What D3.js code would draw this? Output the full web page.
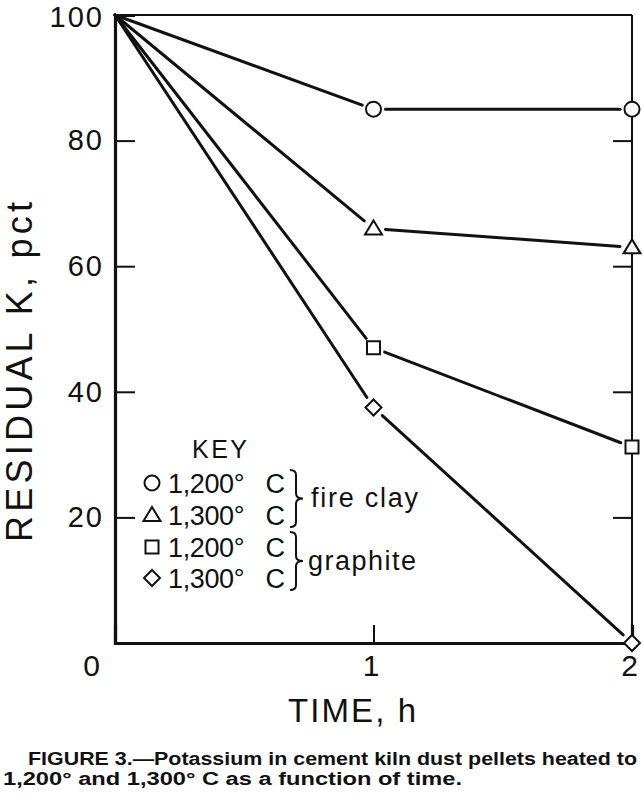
<!DOCTYPE html>
<html>
<head>
<meta charset="utf-8">
<script src="https://cdn.jsdelivr.net/npm/d3@7"></script>
<style>
  body { margin: 0; background: #fff; }
  svg text { fill: #111; font-family: "Liberation Sans", Arial, sans-serif; }
</style>
</head>
<body>
<div id="vis"></div>
<script>
// values
const times = [0, 1, 2];
const fireClay1200 = [100, 85, 85];
const fireClay1300 = [100, 66, 63];
const graphite1200 = [100, 47, 31.2];
const graphite1300 = [100, 37.5, 0];

const yTicks = [20, 40, 60, 80, 100];
const xTicks = [0, 1, 2];
const keyLabels = ["1,200°\u00a0\u00a0\u00a0C", "1,300°\u00a0\u00a0\u00a0C", "1,200°\u00a0\u00a0\u00a0C", "1,300°\u00a0\u00a0\u00a0C"];
const groupLabels = ["fire clay", "graphite"];

const series = [
  { name: "fireClay1200", values: fireClay1200, shape: "circle" },
  { name: "fireClay1300", values: fireClay1300, shape: "triangle" },
  { name: "graphite1200", values: graphite1200, shape: "square" },
  { name: "graphite1300", values: graphite1300, shape: "diamond" }
];

const width = 643, height = 799;

const svg = d3.select("#vis").append("svg")
  .attr("width", width)
  .attr("height", height);

const x = d3.scaleLinear().domain([0, 2]).range([115, 632]);
const y = d3.scaleLinear().domain([0, 100]).range([643, 15]);

// marker shapes
function shapePath(shape) {
  if (shape === "circle") return d3.arc()({ innerRadius: 0, outerRadius: 7.5, startAngle: 0, endAngle: 2 * Math.PI });
  if (shape === "triangle") return "M0,-8L8.5,6L-8.5,6Z";
  if (shape === "square") return "M-6.5,-6.5H6.5V6.5H-6.5Z";
  return "M0,-8L8,0L0,8L-8,0Z";
}

// frame: top and right are thinner
svg.append("line").attr("x1", x(0)).attr("x2", x(2)).attr("y1", y(100)).attr("y2", y(100))
  .attr("stroke", "#111").attr("stroke-width", 2);
svg.append("line").attr("x1", x(2)).attr("x2", x(2)).attr("y1", y(100)).attr("y2", y(0))
  .attr("stroke", "#111").attr("stroke-width", 2);

// left axis
const yAxis = svg.append("g")
  .attr("transform", `translate(${x(0)},0)`)
  .call(d3.axisLeft(y).tickValues(yTicks).tickSize(-20).tickPadding(11));
yAxis.select(".domain").attr("stroke", "#111").attr("stroke-width", 3.2);
yAxis.selectAll(".tick line").attr("stroke", "#111").attr("stroke-width", 2)
  .filter(d => d === 100).remove();
yAxis.selectAll(".tick text").attr("font-size", 29).attr("letter-spacing", 2).attr("fill", "#111")
  .attr("font-family", "Liberation Sans, Arial, sans-serif")
  .attr("dy", d => d === 100 ? "0.4em" : "0.32em");

// right axis ticks
const yRight = svg.append("g")
  .attr("transform", `translate(${x(2)},0)`)
  .call(d3.axisLeft(y).tickValues([20, 40, 60, 80]).tickSize(19).tickFormat(""));
yRight.select(".domain").remove();
yRight.selectAll(".tick line").attr("stroke", "#111").attr("stroke-width", 2);

// bottom axis
const xAxis = svg.append("g")
  .attr("transform", `translate(0,${y(0)})`)
  .call(d3.axisBottom(x).tickValues(xTicks).tickSize(-18).tickPadding(12)
    .tickFormat(d3.format("d")));
xAxis.select(".domain").attr("stroke", "#111").attr("stroke-width", 3.2);
xAxis.selectAll(".tick line").attr("stroke", "#111").attr("stroke-width", 2)
  .filter(d => d !== 1).remove();
xAxis.selectAll(".tick text").attr("font-size", 30).attr("fill", "#111")
  .attr("font-family", "Liberation Sans, Arial, sans-serif")
  .attr("dx", d => d === 0 ? -24 : -3);

// axis titles
svg.append("text")
  .attr("transform", "translate(32,372) rotate(-90)")
  .attr("text-anchor", "middle")
  .attr("font-size", 36)
  .attr("textLength", 340)
  .attr("lengthAdjust", "spacing")
  .text("RESIDUAL  K,  pct");

svg.append("text")
  .attr("x", 288).attr("y", 722)
  .attr("font-size", 33)
  .attr("textLength", 128)
  .attr("lengthAdjust", "spacing")
  .text("TIME,  h");

// series lines, broken short of each marker
const gap = 12;
series.forEach(s => {
  const pts = times.map((t, i) => [x(t), y(s.values[i])]);
  for (let i = 0; i < pts.length - 1; i++) {
    const [x1, y1] = pts[i], [x2, y2] = pts[i + 1];
    const len = Math.hypot(x2 - x1, y2 - y1);
    const ux = (x2 - x1) / len, uy = (y2 - y1) / len;
    const g1 = i === 0 ? 0 : gap;
    svg.append("line")
      .attr("x1", x1 + ux * g1).attr("y1", y1 + uy * g1)
      .attr("x2", x2 - ux * gap).attr("y2", y2 - uy * gap)
      .attr("stroke", "#111").attr("stroke-width", 3)
      .attr("stroke-linecap", "round");
  }
  svg.selectAll(null)
    .data(times.slice(1).map((t, i) => [t, s.values[i + 1]]))
    .enter().append("path")
    .attr("transform", d => `translate(${x(d[0])},${y(d[1])})`)
    .attr("d", shapePath(s.shape))
    .attr("fill", "#fff")
    .attr("stroke", "#111")
    .attr("stroke-width", 2);
});

// key
const key = svg.append("g");
key.append("text").attr("x", 192).attr("y", 458).attr("font-size", 25)
  .attr("textLength", 55).attr("lengthAdjust", "spacing").text("KEY");

const rowY = [493, 525, 557, 588];
series.forEach((s, i) => {
  key.append("path")
    .attr("transform", `translate(152,${rowY[i] - 10})`)
    .attr("d", shapePath(s.shape))
    .attr("fill", "#fff").attr("stroke", "#111").attr("stroke-width", 2);
  key.append("text")
    .attr("x", 168).attr("y", rowY[i])
    .attr("font-size", 27)
    .attr("textLength", 117).attr("lengthAdjust", "spacing")
    .text(keyLabels[i]);
});

function brace(x0, y1, y2) {
  const xm = x0 + 6, xt = x0 + 13, ym = (y1 + y2) / 2, r = 5;
  return `M${x0},${y1}Q${xm},${y1} ${xm},${y1 + r}L${xm},${ym - r}Q${xm},${ym} ${xt},${ym}` +
    `Q${xm},${ym} ${xm},${ym + r}L${xm},${y2 - r}Q${xm},${y2} ${x0},${y2}`;
}
[[470, 527], [532, 590]].forEach((b, i) => {
  key.append("path").attr("d", brace(290, b[0], b[1]))
    .attr("fill", "none").attr("stroke", "#111").attr("stroke-width", 2);
  key.append("text")
    .attr("x", i === 0 ? 311 : 308).attr("y", i === 0 ? 507 : 570)
    .attr("font-size", 27)
    .attr("textLength", i === 0 ? 107 : 108).attr("lengthAdjust", "spacing")
    .text(groupLabels[i]);
});

// caption
const capFont = "'Liberation Sans Narrow', 'Liberation Sans', Arial, sans-serif";
const cap = svg.append("g")
  .attr("font-weight", "bold")
  .attr("font-size", 17.5);
cap.append("text").attr("x", 28).attr("y", 765)
  .attr("textLength", 609).attr("lengthAdjust", "spacingAndGlyphs")
  .style("font-family", capFont)
  .text("FIGURE 3.\u2014Potassium in cement kiln dust pellets heated to");
cap.append("text").attr("x", 3).attr("y", 785)
  .attr("textLength", 459).attr("lengthAdjust", "spacingAndGlyphs")
  .style("font-family", capFont)
  .text("1,200\u00b0 and 1,300\u00b0 C as a function of time.");
</script>
</body>
</html>
